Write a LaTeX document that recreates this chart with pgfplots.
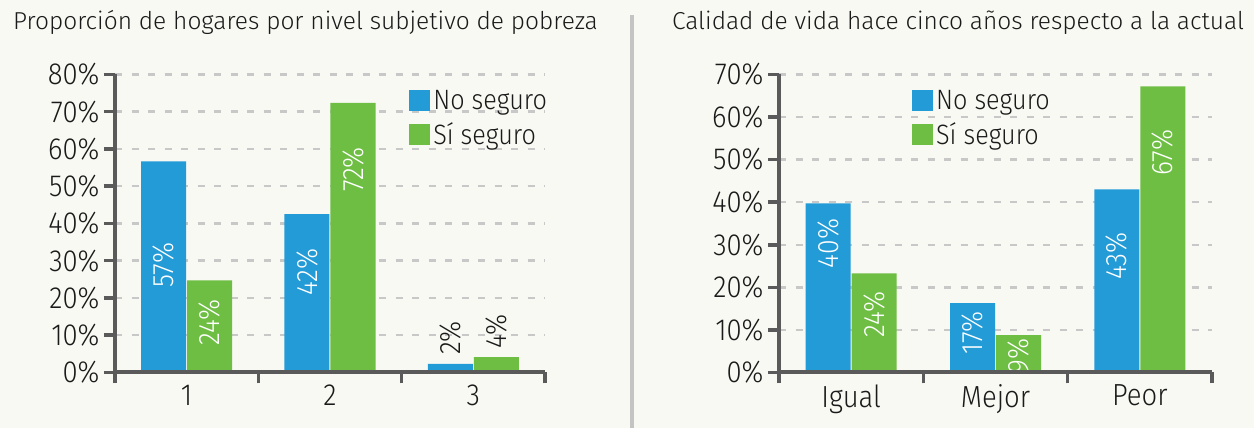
\documentclass[border=0pt]{standalone}
\usepackage{pgfplots}
\pgfplotsset{compat=1.18}
\usepackage{fontspec}
\setmainfont{Fira Sans Light}
\newfontfamily\cond{Fira Sans Light}[FakeStretch=0.9]

\definecolor{bg}{HTML}{F8F9F3}
\definecolor{nos}{HTML}{239BD6}
\definecolor{sis}{HTML}{6EBE44}
\definecolor{axiscol}{HTML}{5A5A5A}
\definecolor{gridcol}{HTML}{C8C8C8}
\definecolor{sepcol}{HTML}{C4C4C4}
\definecolor{txt}{HTML}{1A1A1A}

\newcommand{\bigtxt}{\cond\fontsize{28}{32}\selectfont}
\newcommand{\ticktxt}{\cond\fontsize{30.5}{34}\selectfont}
\newcommand{\valtxt}{\cond\fontsize{29.5}{33}\selectfont}

\tikzset{vl/.style={rotate=90, font=\valtxt, inner sep=0pt}}

\pgfplotsset{
  panel/.style={
    scale only axis, width=432pt, height=298pt,
    xmin=0.5, xmax=3.5, ymin=0,
    axis x line*=bottom, axis y line*=left,
    axis line style={line width=4pt, axiscol},
    tick align=outside, major tick length=11pt,
    tick style={line width=3.5pt, axiscol},
    xtick={0.5,1.5,2.5,3.5}, xticklabels={},
    extra x ticks={1,2,3},
    extra x tick style={tick style={draw=none}},
    tick label style={font=\ticktxt, text=txt},
    yticklabel style={xshift=-1pt},
    xticklabel style={yshift=2pt},
    ymajorgrids,
    grid style={gridcol, line width=2.5pt, dash pattern=on 7pt off 9.5pt},
    ybar=1pt, bar width=45pt,
    legend image code/.code={\fill[##1, draw=none] (0pt,-10.5pt) rectangle (21pt,10.5pt);},
    legend cell align=left,
    legend style={draw=none, fill=none, font=\bigtxt, row sep=10pt, column sep=2pt,
      inner sep=0pt, nodes={inner sep=1pt, text=txt}, anchor=north west},
  },
}

\begin{document}
\begin{tikzpicture}
\fill[bg] (0pt,0pt) rectangle (1254pt,428pt);
\draw[sepcol, line width=3.5pt] (632pt,0pt) -- (632pt,413pt);
\node[anchor=base, font=\fontsize{24.5}{28}\selectfont, text=txt, inner sep=0pt]
  at (305.5pt,398pt) {Proporción de hogares por nivel subjetivo de pobreza};
\node[anchor=base, font=\fontsize{24.5}{28}\selectfont, text=txt, inner sep=0pt]
  at (958pt,398pt) {Calidad de vida hace cinco años respecto a la actual};

% panel izquierdo
\begin{axis}[panel, at={(115pt,55.5pt)}, anchor=south west, width=430pt,
  ymax=80, ytick={0,10,...,80},
  yticklabels={0\%,10\%,20\%,30\%,40\%,50\%,60\%,70\%,80\%},
  extra x tick labels={1,2,3},
  legend style={at={(rel axis cs:0.684,0.951)}}]
\addplot[fill=nos, draw=none] coordinates {(1,56.7) (2,42.5) (3,2.3)};
\addplot[fill=sis, draw=none] coordinates {(1,24.7) (2,72.4) (3,4.1)};
\legend{No seguro, Sí seguro}
\node[vl, text=white] at ([xshift=-23pt]axis cs:1,28.9) {57\%};
\node[vl, text=white] at ([xshift=23pt]axis cs:1,13.4) {24\%};
\node[vl, text=white] at ([xshift=-23pt]axis cs:2,26.9) {42\%};
\node[vl, text=white] at ([xshift=23pt]axis cs:2,54.5) {72\%};
\node[vl, text=txt, anchor=west] at ([xshift=-23pt,yshift=9pt]axis cs:3,2.3) {2\%};
\node[vl, text=txt, anchor=west] at ([xshift=23pt,yshift=9pt]axis cs:3,4.1) {4\%};
\draw[axiscol, line width=4pt] (rel axis cs:0,0) -- (rel axis cs:1,0);
\end{axis}

% panel derecho
\begin{axis}[panel, at={(779pt,55.5pt)}, anchor=south west, width=433pt,
  ymax=70, ytick={0,10,...,70},
  yticklabels={0\%,10\%,20\%,30\%,40\%,50\%,60\%,70\%},
  extra x tick labels={Igual,Mejor,Peor},
  legend style={at={(rel axis cs:0.307,0.951)}}]
\addplot[fill=nos, draw=none] coordinates {(1,39.7) (2,16.3) (3,43.0)};
\addplot[fill=sis, draw=none] coordinates {(1,23.3) (2,8.8) (3,67.2)};
\legend{No seguro, Sí seguro}
\node[vl, text=white] at ([xshift=-23pt]axis cs:1,30.3) {40\%};
\node[vl, text=white] at ([xshift=23pt]axis cs:1,13.7) {24\%};
\node[vl, text=white] at ([xshift=-23pt]axis cs:2,9.3) {17\%};
\node[vl, text=white] at ([xshift=23pt]axis cs:2,3.9) {9\%};
\node[vl, text=white] at ([xshift=-23pt]axis cs:3,27.3) {43\%};
\node[vl, text=white] at ([xshift=23pt]axis cs:3,51.7) {67\%};
\draw[axiscol, line width=4pt] (rel axis cs:0,0) -- (rel axis cs:1,0);
\end{axis}
\end{tikzpicture}
\end{document}
